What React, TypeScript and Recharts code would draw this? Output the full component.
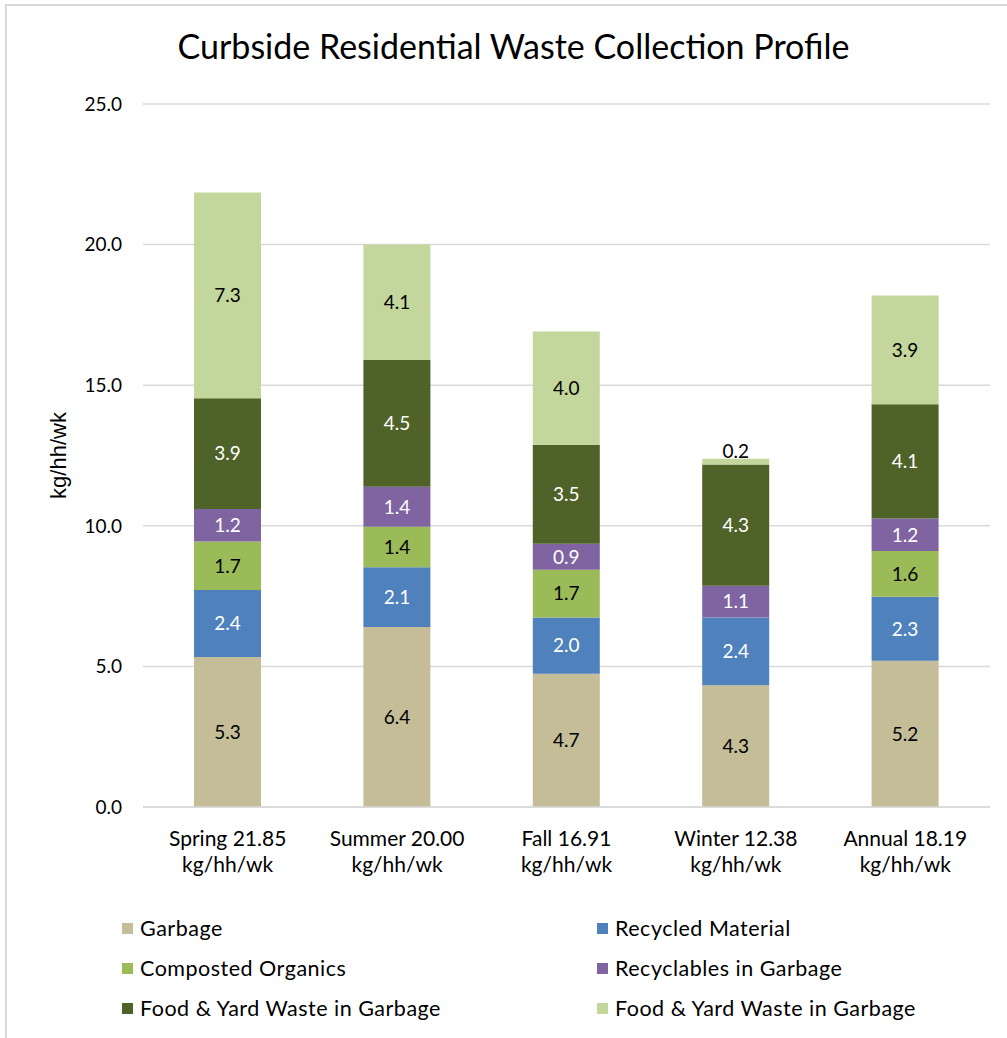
import React from 'react';
import { BarChart, Bar, XAxis, YAxis, CartesianGrid, LabelList, Legend } from 'recharts';

const categories = ['Spring 21.85', 'Summer 20.00', 'Fall 16.91', 'Winter 12.38', 'Annual 18.19'];
const unitLine = 'kg/hh/wk';
const garbage = [5.33, 6.4, 4.74, 4.33, 5.2];
const recycled = [2.39, 2.13, 2.0, 2.41, 2.28];
const composted = [1.72, 1.44, 1.7, 0, 1.62];
const recyclables = [1.16, 1.42, 0.92, 1.13, 1.16];
const foodDark = [3.94, 4.51, 3.52, 4.31, 4.06];
const foodLight = [7.31, 4.1, 4.03, 0.2, 3.87];
const yTicks = [0, 5, 10, 15, 20, 25];

const series = [
  { key: 'garbage', name: 'Garbage', color: '#C4BD97', label: '#000000', values: garbage },
  { key: 'recycled', name: 'Recycled Material', color: '#4F81BD', label: '#FFFFFF', values: recycled },
  { key: 'composted', name: 'Composted Organics', color: '#9BBB59', label: '#000000', values: composted },
  { key: 'recyclables', name: 'Recyclables in Garbage', color: '#8064A2', label: '#FFFFFF', values: recyclables },
  { key: 'foodDark', name: 'Food & Yard Waste in Garbage', color: '#4F6228', label: '#FFFFFF', values: foodDark },
  { key: 'foodLight', name: 'Food & Yard Waste in Garbage', color: '#C3D69B', label: '#000000', values: foodLight },
];

const data = categories.map((c, i) => {
  const row: any = { category: c };
  series.forEach((s) => (row[s.key] = s.values[i]));
  return row;
});

const FONT = 'Lato, "Open Sans", sans-serif';

const XTick = (props: any) => {
  const { x, y, payload } = props;
  return (
    <g>
      <text x={x} y={y + 31} textAnchor="middle" fontFamily={FONT} fontSize={21} fill="#000">
        {payload.value}
      </text>
      <text x={x} y={y + 57} textAnchor="middle" fontFamily={FONT} fontSize={21} fill="#000">
        {unitLine}
      </text>
    </g>
  );
};

const makeLabel = (color: string) => (props: any) => {
  const { x, y, width, height, value } = props;
  if (!value || value <= 0) return null;
  const cx = x + width / 2;
  const small = Math.abs(height) < 16;
  const cy = small ? y - 8 : y + height / 2;
  return (
    <text x={cx} y={cy} dy="0.36em" textAnchor="middle" fontFamily={FONT} fontSize={19} fill={small ? '#000' : color}>
      {Number(value).toFixed(1)}
    </text>
  );
};

const LegendContent = () => (
  <div style={{ display: 'grid', gridTemplateColumns: '475px 400px', rowGap: 0, paddingLeft: 122 }}>
    {series.map((s) => (
      <div key={s.key} style={{ display: 'flex', alignItems: 'center', height: 40, fontFamily: FONT, fontSize: 21.5, letterSpacing: '0.5px', color: '#000' }}>
        <span style={{ display: 'inline-block', width: 11, height: 11, background: s.color, marginRight: 7 }} />
        <span>{s.name}</span>
      </div>
    ))}
  </div>
);

const YLabel = (props: any) => {
  const { viewBox } = props;
  const cy = viewBox.y + viewBox.height / 2;
  const cx = 58;
  return (
    <text x={cx} y={cy} transform={`rotate(-90 ${cx} ${cy})`} textAnchor="middle" dy="0.36em"
      fontFamily='"Liberation Sans", Arial, sans-serif' fontSize={22} fill="#000">
      kg/hh/wk
    </text>
  );
};

export default function App() {
  return (
    <div style={{ position: 'absolute', left: 0, top: 0, width: 1007, height: 1038, background: '#fff', overflow: 'hidden' }}>
      <div style={{ position: 'absolute', left: 5, top: 4, width: 1100, height: 1100, borderTop: '2px solid #D9D9D9', borderLeft: '2px solid #D9D9D9' }} />
      <div style={{ position: 'absolute', left: 0, top: 25, width: 1027, textAlign: 'center', fontFamily: FONT, fontSize: 34, color: '#000' }}>
        Curbside Residential Waste Collection Profile
      </div>
      <div style={{ position: 'absolute', left: 0, top: 0 }}>
        <BarChart width={1007} height={1038} data={data} margin={{ top: 104, right: 17, left: 0, bottom: 171 }}>
          <CartesianGrid vertical={false} stroke="#D9D9D9" strokeWidth={1.5} />
          <XAxis dataKey="category" height={60} axisLine={{ stroke: '#D9D9D9', strokeWidth: 1.5 }} tickLine={false} tick={<XTick />} interval={0} />
          <YAxis width={143} domain={[0, 25]} ticks={yTicks} axisLine={false} tickLine={false} tickMargin={15}
            tickFormatter={(v: number) => v.toFixed(1)}
            tick={{ fontFamily: FONT, fontSize: 19, fill: '#000' }}
            label={<YLabel />} />
          <Legend layout="horizontal" verticalAlign="middle" content={<LegendContent />}
            wrapperStyle={{ position: 'absolute', left: 0, top: 908, width: 1007 }} />
          {series.map((s) => (
            <Bar key={s.key} dataKey={s.key} name={s.name} stackId="a" fill={s.color} barSize={67} isAnimationActive={false}>
              <LabelList dataKey={s.key} content={makeLabel(s.label)} />
            </Bar>
          ))}
        </BarChart>
      </div>
    </div>
  );
}
